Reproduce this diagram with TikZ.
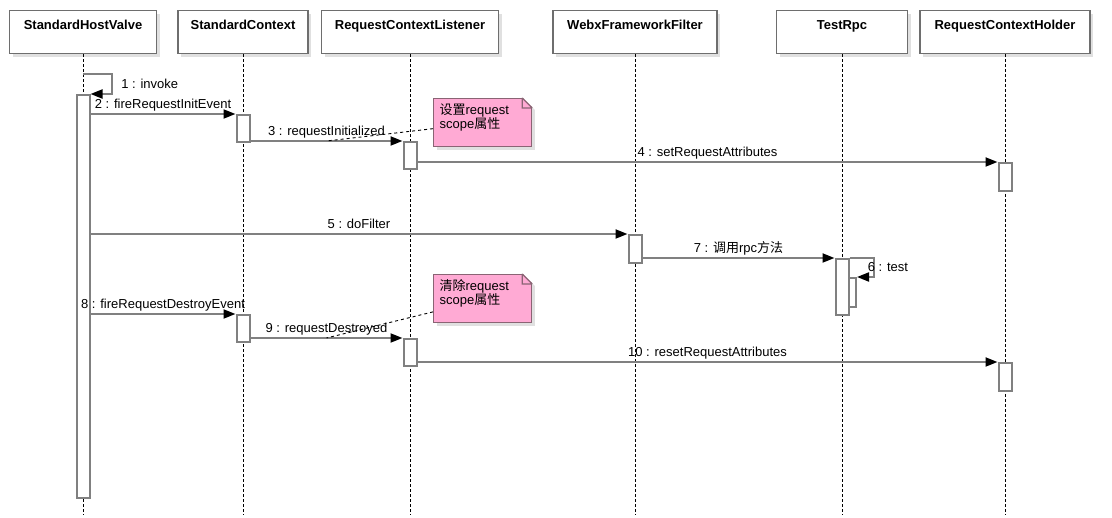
\documentclass[tikz,border=0pt]{standalone}
\usepackage{fontspec}
\setmainfont{Liberation Sans}
\newfontfamily\cjk{Noto Sans CJK SC}
\usetikzlibrary{arrows.meta, shadows, calc}

\definecolor{linegray}{HTML}{808080}
\definecolor{headgray}{HTML}{6E6E6E}
\definecolor{notepink}{HTML}{FFAAD4}
\definecolor{noteedge}{HTML}{8A6474}
\newcommand{\diagfont}{\fontsize{13}{14}\selectfont}

\begin{document}
\begin{tikzpicture}[
  x=1pt, y=-1pt, font=\diagfont,
  head/.style={draw=headgray, fill=white, line width=1.3pt, anchor=north, font=\diagfont\bfseries,
    text height=10pt, text depth=15pt, inner ysep=9pt, inner xsep=0pt,
    drop shadow={shadow xshift=3pt, shadow yshift=-3pt, fill=black!12, opacity=1}},
  lifeline/.style={draw=black, line width=0.9pt, dash pattern=on 3pt off 2pt},
  act/.style={draw=linegray, line width=2pt, fill=white, anchor=north, minimum width=13pt, inner sep=0pt},
  msg/.style={draw=linegray, line width=2pt, -{Triangle[length=12pt,width=9pt,color=black]}},
  msglabel/.style={anchor=base, yshift=5pt, inner sep=0pt},
  note/.style={anchor=north west, fill=notepink, draw=noteedge, line width=1.2pt, minimum width=98pt,
    minimum height=48pt, text width=86pt, inner xsep=6pt, align=left,
    execute at end node={\endgraf\vspace*{11pt}},
    drop shadow={shadow xshift=3pt, shadow yshift=-3pt, fill=black!12, opacity=1}},
  notelink/.style={draw=black, line width=0.9pt, dash pattern=on 3pt off 3pt},
]
\useasboundingbox (0,0) rectangle (1112,518);

% --- lifeline heads ---
\foreach \nm/\x/\w/\txt in {shv/83/147/StandardHostValve, sctx/243/130/StandardContext,
  rcl/410/177/RequestContextListener, wff/635/164/WebxFrameworkFilter,
  trpc/842/131/TestRpc, rch/1005/170/RequestContextHolder}
{
  \node[head, minimum width=\w pt] (\nm) at (\x,10) {\txt};
}
\coordinate (lifeend) at (0,515);
\foreach \nm in {shv,sctx,rcl,wff,trpc,rch}
  \draw[lifeline] (\nm.south) -- (\nm |- lifeend);

% --- activations ---
\node[act, minimum height=29pt] (a7) at (849.5,277) {};
\foreach \nm/\ll/\y/\h in {a1/shv/94/403, a2/sctx/114/27, a3/rcl/141/27, a4/rch/162/28,
  a5/wff/234/28, a6/trpc/258/56, a8/sctx/314/27, a9/rcl/338/27, a10/rch/362/28}
{
  \node[act, minimum height=\h pt] (\nm) at (\ll |- 0,\y) {};
}

% --- messages ---
\coordinate (c1) at (shv |- 0,74);
\draw[msg] (c1) -- ++(29,0) |- (a1.north east) node[pos=0.25, anchor=west, xshift=5pt] (l1) {1 : invoke};
\draw[msg] (a1.east |- a2.north) -- (a2.north west) node[msglabel, midway] (l2) {2 : fireRequestInitEvent};
\draw[msg] (a2.east |- a3.north) -- (a3.north west) node[msglabel, midway] (l3) {3 : requestInitialized} coordinate[midway] (m3);
\draw[msg] (a3.east |- a4.north) -- (a4.north west) node[msglabel, midway] (l4) {4 : setRequestAttributes};
\draw[msg] (a1.east |- a5.north) -- (a5.north west) node[msglabel, midway] (l5) {5 : doFilter};
\draw[msg] (a6.north east) -- ++(24,0) |- (a7.north east) node[pos=0.25, anchor=west, xshift=-10pt] (l6) {6 : test};
\draw[msg] (a5.east |- a6.north) -- (a6.north west) node[msglabel, midway] (l7) {7 : {\cjk 调用}rpc{\cjk 方法}};
\draw[msg] (a1.east |- a8.north) -- (a8.north west) node[msglabel, midway] (l8) {8 : fireRequestDestroyEvent};
\draw[msg] (a8.east |- a9.north) -- (a9.north west) node[msglabel, midway] (l9) {9 : requestDestroyed} coordinate[midway] (m9);
\draw[msg] (a9.east |- a10.north) -- (a10.north west) node[msglabel, midway] (l10) {10 : resetRequestAttributes};

% --- notes ---
\node[note] (n1) at (433,98) {{\cjk 设置}request\\scope{\cjk 属性}};
\node[note] (n2) at (433,274) {{\cjk 清除}request\\scope{\cjk 属性}};
\foreach \n in {n1,n2}
{
  \fill[white] ($(\n.north east)+(-10,-1)$) -- ($(\n.north east)+(4,-1)$) -- ($(\n.north east)+(4,13)$) -- cycle;
  \draw[noteedge, line width=1.2pt] ($(\n.north east)+(-10,0)$) -- ++(10,10)
    ($(\n.north east)+(-10,0)$) -- ++(0,10) -- ++(10,0);
}
\draw[notelink] (n1.187) -- (m3);
\draw[notelink] (n2.195) -- (m9);

\end{tikzpicture}
\end{document}
